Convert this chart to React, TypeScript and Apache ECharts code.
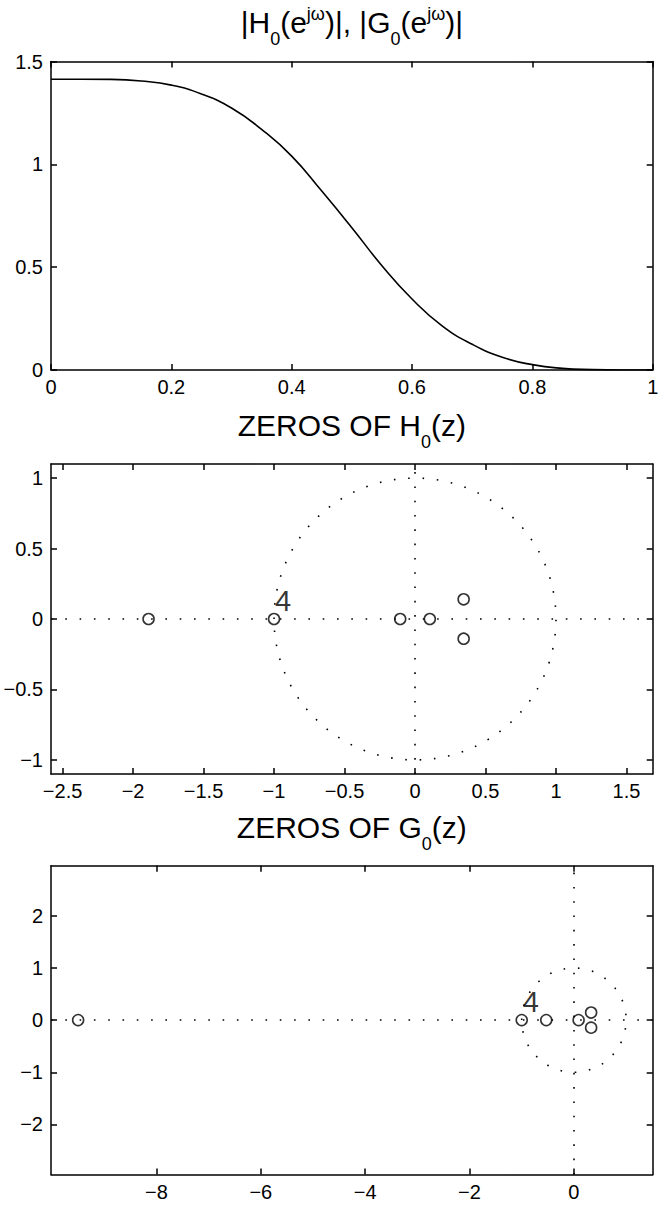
import React, { useEffect, useRef } from "react";
import * as echarts from "echarts";

const FONT = '"Liberation Sans", Arial, Helvetica, sans-serif';

// ---- Panel 1: |H0(e^jw)|, |G0(e^jw)| (normalized frequency) ----
const freq = [0, 0.05, 0.1, 0.15, 0.2, 0.25, 0.3, 0.35, 0.4, 0.45, 0.5, 0.55, 0.6, 0.65, 0.7, 0.75, 0.8, 0.85, 0.9, 0.95, 1.0];
const magnitude = [1.414, 1.414, 1.413, 1.405, 1.385, 1.342, 1.274, 1.17, 1.04, 0.87, 0.692, 0.507, 0.345, 0.215, 0.125, 0.062, 0.026, 0.008, 0.002, 0.0, 0.0];
const p1XTicks = [0, 0.2, 0.4, 0.6, 0.8, 1];
const p1YTicks = [0, 0.5, 1, 1.5];

// ---- Panel 2: zeros of H0(z) ----
const h0ZerosRe = [-1.89, -1, -0.105, 0.105, 0.345, 0.345];
const h0ZerosIm = [0, 0, 0, 0, 0.14, -0.14];
const h0Multiplicity = [1, 4, 1, 1, 1, 1];
const p2XTicks = [-2.5, -2, -1.5, -1, -0.5, 0, 0.5, 1, 1.5];
const p2YTicks = [-1, -0.5, 0, 0.5, 1];
const p2XRange = [-2.582, 1.686];
const p2YRange = [-1.1, 1.1];

// ---- Panel 3: zeros of G0(z) ----
const g0ZerosRe = [-9.5, -1, -0.53, 0.09, 0.33, 0.33];
const g0ZerosIm = [0, 0, 0, 0, 0.145, -0.145];
const g0Multiplicity = [1, 4, 1, 1, 1, 1];
const p3XTicks = [-8, -6, -4, -2, 0];
const p3YTicks = [-2, -1, 0, 1, 2];
const p3XRange = [-10.02, 1.51];
const p3YRange = [-2.96, 2.96];

const unitCircleRadius = 1;

const fmt = (v: number) => String(v).replace("-", "\u2212");

const DOT = [1.6, 12.7];

function axisPair(gridIndex: number, dim: "x" | "y", range: number[], ticks: number[]) {
  const base = {
    type: "value",
    gridIndex,
    min: range[0],
    max: range[1],
    splitLine: { show: false },
    axisLine: { show: true, onZero: false, lineStyle: { color: "#000", width: 1.5 } },
    axisTick: { show: true, inside: true, length: 6, customValues: ticks, lineStyle: { color: "#000", width: 1.5 } },
  };
  const main = {
    ...base,
    position: dim === "x" ? "bottom" : "left",
    axisLabel: {
      show: true,
      customValues: ticks,
      margin: dim === "x" ? 7 : 8,
      fontSize: 20,
      fontFamily: FONT,
      color: "#000",
      formatter: (v: number) => fmt(v),
    },
  };
  const mirror = {
    ...base,
    position: dim === "x" ? "top" : "right",
    axisLabel: { show: false },
  };
  return [main, mirror];
}

function zerosSeries(axisIdx: number, re: number[], im: number[], mult: number[]) {
  return [
    {
      type: "custom",
      xAxisIndex: axisIdx,
      yAxisIndex: axisIdx,
      silent: true,
      z: 1,
      data: [[0, 0, unitCircleRadius]],
      renderItem: (params: any, api: any) => {
        const c = api.coord([api.value(0), api.value(1)]);
        const s = api.size([api.value(2), api.value(2)]);
        return {
          type: "ellipse",
          shape: { cx: c[0], cy: c[1], rx: s[0], ry: s[1] },
          style: { fill: "none", stroke: "#000", lineWidth: 1.6, lineDash: DOT },
        };
      },
    },
    {
      type: "scatter",
      xAxisIndex: axisIdx,
      yAxisIndex: axisIdx,
      z: 3,
      symbol: "circle",
      symbolSize: 11,
      itemStyle: { color: "rgba(0,0,0,0)", borderColor: "#000", borderWidth: 1.6 },
      data: re.map((x, i) => ({
        value: [x, im[i]],
        label: {
          show: mult[i] > 1,
          formatter: String(mult[i]),
          position: "inside",
          offset: [9, -18],
          fontSize: 29,
          fontFamily: FONT,
          color: "#000",
          textBorderWidth: 0,
          textBorderColor: "transparent",
        },
      })),
      markLine: {
        silent: true,
        symbol: ["none", "none"],
        label: { show: false },
        lineStyle: { color: "#000", width: 1.6, type: DOT },
        data: [{ yAxis: 0 }, { xAxis: 0 }],
      },
    },
  ];
}

const titleRich = {
  n: { fontSize: 30, fontFamily: FONT, color: "#000" },
  sub: { fontSize: 18, fontFamily: FONT, color: "#000", padding: [34, 0, 0, 0] },
  sup: { fontSize: 18, fontFamily: FONT, color: "#000", padding: [0, 0, 16, 0] },
};

function titleText(x: number, y: number, text: string) {
  return {
    type: "text",
    x,
    y,
    silent: true,
    style: {
      text,
      rich: titleRich,
      align: "center",
      verticalAlign: "middle",
      textAlign: "center",
      textVerticalAlign: "middle",
      fontSize: 30,
      fontFamily: FONT,
      fill: "#000",
    },
  };
}

export default function App() {
  const ref = useRef<HTMLDivElement>(null);
  useEffect(() => {
    if (!ref.current) return;
    const chart = echarts.init(ref.current, null, { renderer: "svg" });
    const grids = [
      { left: 51, top: 61.5, width: 601.7, height: 308.5 },
      { left: 51, top: 464, width: 601.7, height: 310 },
      { left: 51, top: 865.7, width: 601.7, height: 308.8 },
    ];
    const xAxes = [
      ...axisPair(0, "x", [0, 1], p1XTicks),
      ...axisPair(1, "x", p2XRange, p2XTicks),
      ...axisPair(2, "x", p3XRange, p3XTicks),
    ];
    const yAxes = [
      ...axisPair(0, "y", [0, 1.5], p1YTicks),
      ...axisPair(1, "y", p2YRange, p2YTicks),
      ...axisPair(2, "y", p3YRange, p3YTicks),
    ];
    const cx = 51 + 601.7 / 2;
    chart.setOption({
      animation: false,
      backgroundColor: "#fff",
      grid: grids.map((g) => ({ ...g, containLabel: false })),
      xAxis: xAxes,
      yAxis: yAxes,
      graphic: [
        titleText(cx, 22, "{n||H}{sub|0}{n|(e}{sup|j\u03c9}{n|)|, |G}{sub|0}{n|(e}{sup|j\u03c9}{n|)|}"),
        titleText(cx, 425, "{n|ZEROS OF H}{sub|0}{n|(z)}"),
        titleText(cx, 827, "{n|ZEROS OF G}{sub|0}{n|(z)}"),
      ],
      series: [
        {
          type: "line",
          xAxisIndex: 0,
          yAxisIndex: 0,
          data: freq.map((f, i) => [f, magnitude[i]]),
          showSymbol: false,
          smooth: 0.5,
          lineStyle: { color: "#000", width: 1.6 },
        },
        ...zerosSeries(2, h0ZerosRe, h0ZerosIm, h0Multiplicity),
        ...zerosSeries(4, g0ZerosRe, g0ZerosIm, g0Multiplicity),
      ],
    });
    return () => chart.dispose();
  }, []);
  return (
    <div
      ref={ref}
      style={{ position: "absolute", left: 0, top: 0, width: 667, height: 1205, background: "#fff" }}
    />
  );
}
